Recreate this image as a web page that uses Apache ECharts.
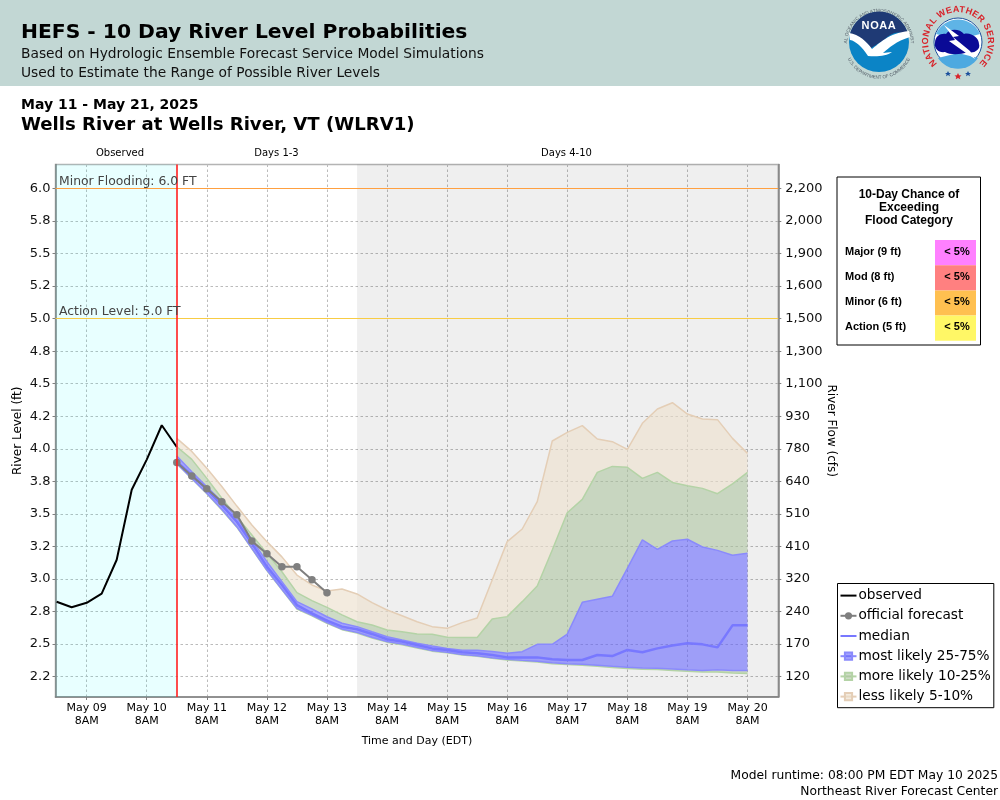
<!DOCTYPE html>
<html>
<head>
<meta charset="utf-8">
<title>HEFS - 10 Day River Level Probabilities</title>
<script src="https://cdn.jsdelivr.net/npm/echarts@6/dist/echarts.min.js"></script>
<style>
  html, body { margin: 0; background: #fff; }
  #main { position: absolute; left: 0; top: 0; width: 1000px; height: 800px; }
  #logos { position: absolute; left: 820px; top: 0; }
</style>
</head>
<body>
<div id="main"></div>
<svg id="logos" width="180" height="86" viewBox="820 0 180 86" font-family="Liberation Sans">
  <g transform="translate(-1,0)">
    <path id="noaaTop" d="M 848 44 A 32 32 0 0 1 912 44" fill="none"/>
    <path id="noaaBottom" d="M 846 50 A 34.5 34.5 0 0 0 914 50" fill="none"/>
    <text font-size="4.6" fill="#56606a" letter-spacing="0.1"><textPath href="#noaaTop" startOffset="50%" text-anchor="middle">NATIONAL OCEANIC AND ATMOSPHERIC ADMINISTRATION</textPath></text>
    <text font-size="4.6" fill="#56606a"><textPath href="#noaaBottom" startOffset="50%" text-anchor="middle">U.S. DEPARTMENT OF COMMERCE</textPath></text>
    <circle cx="880" cy="42" r="30" fill="#0b84c6"/>
    <path d="M 850.5 36 A 30 30 0 0 1 909.5 36 C 900 30 893 32 885 40 L 872 48 C 866 40 858 35 850.5 36 Z" fill="#1f3a75"/>
    <path d="M 850 33 C 860 34 868 42 873 49 C 880 44 889 33 910 31 L 911 37 C 897 41 890 48 884 53 L 893 52 C 888 56 878 57 869 56 C 863 47 857 41 851 40 Z" fill="#fff"/>
    <text x="880" y="29" font-size="11" font-weight="bold" fill="#fff" text-anchor="middle" letter-spacing="0.6">NOAA</text>
  </g>

  <path id="nwsTop" d="M 940.8 66.6 A 30 30 0 1 1 975.2 66.6" fill="none"/>
  <text font-size="9" font-weight="bold" fill="#d8232a" letter-spacing="0.3"><textPath href="#nwsTop" startOffset="50%" text-anchor="middle">NATIONAL WEATHER SERVICE</textPath></text>
  <circle cx="958" cy="42" r="24" fill="#fff" stroke="#1b4f9c" stroke-width="1"/>
  <path d="M 936 34 A 24 24 0 0 1 980 34 L 958 40 Z" fill="#5fb4e6"/>
  <path d="M 938 58 A 24 24 0 0 0 978 58 L 958 53 Z" fill="#4da9e0"/>
  <path d="M 935 43 C 935 36 941 33 946 34 C 950 28 960 29 964 34 C 971 32 979 38 979 44 C 981 50 973 54 968 52 C 960 55 950 55 945 52 C 939 53 934 49 935 43 Z" fill="#0a0a96"/>
  <path d="M 944 25 L 959 36 L 953 37 L 970 51 L 975 59 L 966 53 L 949 41 L 955 40 Z" fill="#fff"/>
  <path d="M 948 72 l 1 2 2 0 -1.6 1.3 .6 2 -2 -1.2 -2 1.2 .6 -2 -1.6 -1.3 2 0 Z" fill="#1b4f9c" transform="translate(0,-1)"/>
  <path d="M 958 73 l 1.1 2.2 2.4 .2 -1.8 1.5 .6 2.3 -2.3 -1.3 -2.3 1.3 .6 -2.3 -1.8 -1.5 2.4 -.2 Z" fill="#d8232a"/>
  <path d="M 968 72 l 1 2 2 0 -1.6 1.3 .6 2 -2 -1.2 -2 1.2 .6 -2 -1.6 -1.3 2 0 Z" fill="#1b4f9c" transform="translate(0,-1)"/>
</svg>
<script>
// axis ticks
var levelTicks = [2.25, 2.5, 2.75, 3.0, 3.25, 3.5, 3.75, 4.0, 4.25, 4.5, 4.75, 5.0, 5.25, 5.5, 5.75, 6.0];
var levelLabels = ['2.2', '2.5', '2.8', '3.0', '3.2', '3.5', '3.8', '4.0', '4.2', '4.5', '4.8', '5.0', '5.2', '5.5', '5.8', '6.0'];
var flowLabels = ['120', '170', '240', '320', '410', '510', '640', '780', '930', '1,100', '1,300', '1,500', '1,600', '1,900', '2,000', '2,200'];
// hours counted from May 09 8AM
var dayTicks = [0, 24, 48, 72, 96, 120, 144, 168, 192, 216, 240, 264];
var dayLabels = ['May 09', 'May 10', 'May 11', 'May 12', 'May 13', 'May 14', 'May 15', 'May 16', 'May 17', 'May 18', 'May 19', 'May 20'];

// observed river level
var observedHours = [-12, -6, 0, 6, 12, 18, 24, 30, 36];
var observed = [2.825, 2.783, 2.817, 2.888, 3.148, 3.686, 3.917, 4.181, 4.014];

// official forecast
var officialHours = [36, 42, 48, 54, 60, 66, 72, 78, 84, 90, 96];
var official = [3.894, 3.791, 3.694, 3.594, 3.494, 3.291, 3.194, 3.094, 3.094, 2.994, 2.894];

// ensemble percentiles, every 6 hours
var ensembleHours = [36, 42, 48, 54, 60, 66, 72, 78, 84, 90, 96, 102, 108, 114, 120, 126, 132, 138, 144, 150, 156, 162, 168, 174, 180, 186, 192, 198, 204, 210, 216, 222, 228, 234, 240, 246, 252, 258, 264];
var p95 = [4.08, 3.98, 3.85, 3.71, 3.56, 3.415, 3.287, 3.17, 3.03, 2.954, 2.908, 2.923, 2.885, 2.818, 2.762, 2.718, 2.672, 2.634, 2.621, 2.665, 2.70, 2.992, 3.287, 3.384, 3.594, 4.06, 4.126, 4.178, 4.075, 4.055, 3.996, 4.196, 4.306, 4.354, 4.267, 4.229, 4.224, 4.08, 3.965];
var p90 = [4.016, 3.919, 3.773, 3.62, 3.479, 3.338, 3.197, 3.056, 2.895, 2.834, 2.782, 2.724, 2.672, 2.647, 2.608, 2.595, 2.577, 2.575, 2.552, 2.55, 2.55, 2.693, 2.711, 2.826, 2.946, 3.223, 3.509, 3.612, 3.819, 3.865, 3.858, 3.773, 3.819, 3.742, 3.717, 3.696, 3.655, 3.73, 3.819];
var p75 = [3.945, 3.824, 3.709, 3.594, 3.474, 3.30, 3.133, 2.98, 2.826, 2.77, 2.71, 2.66, 2.634, 2.595, 2.557, 2.531, 2.506, 2.485, 2.467, 2.452, 2.452, 2.444, 2.429, 2.442, 2.498, 2.498, 2.577, 2.821, 2.844, 2.867, 3.082, 3.30, 3.228, 3.292, 3.305, 3.246, 3.22, 3.182, 3.197];
var median = [3.90, 3.799, 3.689, 3.568, 3.44, 3.274, 3.095, 2.954, 2.80, 2.736, 2.68, 2.634, 2.614, 2.578, 2.537, 2.519, 2.493, 2.467, 2.455, 2.437, 2.429, 2.416, 2.398, 2.398, 2.398, 2.383, 2.378, 2.378, 2.416, 2.408, 2.455, 2.437, 2.467, 2.49, 2.506, 2.498, 2.475, 2.644, 2.644];
var p25 = [3.888, 3.773, 3.658, 3.535, 3.402, 3.236, 3.069, 2.921, 2.775, 2.723, 2.665, 2.616, 2.59, 2.552, 2.52, 2.50, 2.475, 2.45, 2.437, 2.421, 2.411, 2.396, 2.383, 2.375, 2.368, 2.357, 2.35, 2.345, 2.337, 2.329, 2.322, 2.316, 2.314, 2.309, 2.303, 2.298, 2.303, 2.298, 2.298];
var p10 = [3.885, 3.77, 3.655, 3.53, 3.398, 3.232, 3.065, 2.917, 2.77, 2.718, 2.66, 2.611, 2.585, 2.547, 2.515, 2.495, 2.47, 2.446, 2.433, 2.417, 2.407, 2.392, 2.378, 2.37, 2.362, 2.35, 2.343, 2.337, 2.329, 2.32, 2.313, 2.307, 2.305, 2.297, 2.291, 2.285, 2.285, 2.278, 2.275];

// flood category table
var floodRows = ['Major (9 ft)', 'Mod (8 ft)', 'Minor (6 ft)', 'Action (5 ft)'];
var floodChance = ['< 5%', '< 5%', '< 5%', '< 5%'];
var floodColors = ['#ff80ff', '#ff8080', '#ffc050', '#fff766'];

var FONT = '"DejaVu Sans"';
var ARIAL = '"Liberation Sans"';
var BLUE = '#8a8afc', GREEN = '#b4d3a6', TAN = '#e4ceb6';
var FILL_BLUE = 'rgba(104,104,254,0.6)', FILL_GREEN = 'rgba(174,197,160,0.6)', FILL_TAN = 'rgba(237,224,206,0.65)';

// filled bands: upper edge, lower edge, colour
var bands = [
    [p25, p10, FILL_GREEN],
    [p75, p25, FILL_BLUE],
    [p90, p75, FILL_GREEN],
    [p95, p90, FILL_TAN]
];

function pairs(xs, ys) {
    return xs.map(function (x, i) { return [x, ys[i]]; });
}
function text(str, x, y, font, align, fill) {
    return {
        type: 'text', x: x, y: y, silent: true,
        style: { text: str, font: font, textAlign: align || 'left', textVerticalAlign: 'middle', fill: fill || '#000' }
    };
}
function edgeSeries(name, values, fill, line, symbol) {
    return {
        name: name, type: 'line', data: pairs(ensembleHours, values),
        symbol: symbol || 'none', showSymbol: false, silent: true,
        itemStyle: { color: fill, borderColor: line, borderWidth: 1 },
        lineStyle: { color: line, width: 1.5 }
    };
}
function renderBand(params, api) {
    var b = bands[params.dataIndex];
    var upper = ensembleHours.map(function (h, i) { return api.coord([h, b[0][i]]); });
    var lower = ensembleHours.map(function (h, i) { return api.coord([h, b[1][i]]); }).reverse();
    return { type: 'polygon', shape: { points: upper.concat(lower) }, style: { fill: b[2] }, silent: true };
}

var graphics = [
    { type: 'rect', shape: { x: 0, y: 0, width: 1000, height: 86 }, style: { fill: '#c2d7d4' }, silent: true },
    text('HEFS - 10 Day River Level Probabilities', 21, 33, 'bold 20.3px ' + FONT),
    text('Based on Hydrologic Ensemble Forecast Service Model Simulations', 21, 54, '13.8px ' + FONT, 'left', '#111'),
    text('Used to Estimate the Range of Possible River Levels', 21, 73, '13.8px ' + FONT, 'left', '#111'),
    text('May 11 - May 21, 2025', 21, 105, 'bold 14px ' + FONT),
    text('Wells River at Wells River, VT (WLRV1)', 21, 125.5, 'bold 18.1px ' + FONT),
    text('Observed', 120, 153.5, '10px ' + FONT, 'center'),
    text('Days 1-3', 276.5, 153.5, '10px ' + FONT, 'center'),
    text('Days 4-10', 566.5, 153.5, '10px ' + FONT, 'center'),
    text('Model runtime: 08:00 PM EDT May 10 2025', 998, 775.5, '12.3px ' + FONT, 'right'),
    text('Northeast River Forecast Center', 998, 791.5, '12.3px ' + FONT, 'right'),
    { type: 'rect', shape: { x: 837, y: 177, width: 143.5, height: 168 }, style: { fill: '#fff', stroke: '#000', lineWidth: 1 }, silent: true },
    text('10-Day Chance of', 909, 195, 'bold 12px ' + ARIAL, 'center'),
    text('Exceeding', 909, 208, 'bold 12px ' + ARIAL, 'center'),
    text('Flood Category', 909, 221, 'bold 12px ' + ARIAL, 'center')
];
floodRows.forEach(function (row, i) {
    graphics.push({ type: 'rect', shape: { x: 935, y: 240 + i * 25.2, width: 41, height: 25.2 }, style: { fill: floodColors[i] }, silent: true });
    graphics.push(text(row, 845, 251.5 + i * 25, 'bold 11px ' + ARIAL));
    graphics.push(text(floodChance[i], 957, 251.5 + i * 25, 'bold 11px ' + ARIAL, 'center'));
});

var myChart = echarts.init(document.getElementById('main'));
var option = {
    animation: false,
    textStyle: { fontFamily: FONT },
    grid: { left: 55.5, width: 722.8, top: 164.5, height: 532.5, show: true, outerBoundsMode: 'none', borderColor: '#b4b4b4', borderWidth: 1.5, backgroundColor: '#fff' },
    xAxis: {
        type: 'value', min: -12.45, max: 276.3,
        name: 'Time and Day (EDT)', nameLocation: 'middle', nameGap: 39, nameMoveOverlap: false,
        nameTextStyle: { fontSize: 11, color: '#000' },
        axisLine: { onZero: false, lineStyle: { color: '#808080', width: 1.5 } },
        axisTick: { customValues: dayTicks, length: 3, lineStyle: { color: '#808080' } },
        axisLabel: {
            customValues: dayTicks, fontSize: 11, color: '#000', lineHeight: 13, margin: 5, hideOverlap: false,
            formatter: function (v) { return dayLabels[dayTicks.indexOf(v)] + '\n8AM'; }
        },
        splitLine: { show: true, lineStyle: { color: '#bbb', type: [2.5, 2.5], width: 1 } }
    },
    yAxis: [{
        type: 'value', min: 2.0937, max: 6.1836,
        name: 'River Level (ft)', nameLocation: 'middle', nameGap: 32, nameMoveOverlap: false,
        nameTextStyle: { fontSize: 12, color: '#000' },
        axisLine: { onZero: false, lineStyle: { color: '#808080', width: 1.5 } },
        axisTick: { customValues: levelTicks, length: 3, lineStyle: { color: '#808080' } },
        axisLabel: {
            customValues: levelTicks, fontSize: 13, color: '#111', margin: 5,
            formatter: function (v) { return levelLabels[levelTicks.indexOf(v)]; }
        },
        splitLine: { lineStyle: { color: '#bbb', type: [2.5, 2.5], width: 1 } }
    }, {
        type: 'value', min: 2.0937, max: 6.1836, position: 'right',
        name: 'River Flow (cfs)', nameLocation: 'middle', nameGap: 47, nameRotate: -90, nameMoveOverlap: false,
        nameTextStyle: { fontSize: 12, color: '#000' },
        axisLine: { show: true, onZero: false, lineStyle: { color: '#808080', width: 1.5 } },
        axisTick: { customValues: levelTicks, length: 3, lineStyle: { color: '#808080' } },
        axisLabel: {
            customValues: levelTicks, fontSize: 13, color: '#111', margin: 7,
            formatter: function (v) { return flowLabels[levelTicks.indexOf(v)]; }
        },
        splitLine: { show: false }
    }],
    legend: {
        orient: 'vertical', left: 837.5, top: 583.5, padding: [4, 3, 3, 2],
        itemWidth: 16, itemHeight: 9, itemGap: 4,
        backgroundColor: '#fff', borderColor: '#000', borderWidth: 1,
        textStyle: { fontSize: 13.7, lineHeight: 16.2, color: '#000', padding: [0, 0, 0, -3] },
        data: [
            { name: 'observed', itemStyle: { color: 'transparent', borderWidth: 0 } },
            'official forecast',
            { name: 'median', itemStyle: { color: 'transparent', borderWidth: 0 } },
            'most likely 25-75%', 'more likely 10-25%', 'less likely 5-10%'
        ]
    },
    graphic: graphics,
    series: [
        {
            // shaded periods and the level/now lines
            name: 'background', type: 'line', data: [], silent: true,
            markArea: {
                silent: true,
                data: [
                    [{ xAxis: -12.45, itemStyle: { color: 'rgba(0,255,255,0.09)' } }, { xAxis: 36 }],
                    [{ xAxis: 108, itemStyle: { color: 'rgba(0,0,0,0.063)' } }, { xAxis: 276.3 }]
                ]
            },
            markLine: {
                silent: true, symbol: 'none', animation: false,
                label: { position: 'insideStartTop', fontSize: 12.4, color: '#444', distance: [3.5, 1], fontFamily: FONT },
                data: [
                    { yAxis: 6, lineStyle: { color: '#ffa040', width: 1, type: 'solid' }, label: { formatter: 'Minor Flooding: 6.0 FT' } },
                    { yAxis: 5, lineStyle: { color: '#f8cc44', width: 1, type: 'solid' }, label: { formatter: 'Action Level: 5.0 FT' } },
                    { xAxis: 36, lineStyle: { color: '#ff2020', width: 1.6, type: 'solid' }, label: { show: false } }
                ]
            }
        },
        {
            name: 'bands', type: 'custom', renderItem: renderBand, silent: true,
            data: bands.map(function (b) { return [ensembleHours[0], b[0][0]]; })
        },
        edgeSeries('p10 edge', p10, FILL_GREEN, GREEN),
        edgeSeries('p25 edge', p25, FILL_BLUE, BLUE),
        edgeSeries('most likely 25-75%', p75, FILL_BLUE, BLUE, 'rect'),
        edgeSeries('more likely 10-25%', p90, FILL_GREEN, GREEN, 'rect'),
        edgeSeries('less likely 5-10%', p95, FILL_TAN, TAN, 'rect'),
        {
            name: 'median', type: 'line', data: pairs(ensembleHours, median), symbol: 'none', silent: true,
            itemStyle: { color: '#7878ff' }, lineStyle: { color: '#7878ff', width: 2.5 }
        },
        {
            name: 'official forecast', type: 'line', data: pairs(officialHours, official), silent: true,
            symbol: 'circle', symbolSize: 7.5, showAllSymbol: true,
            itemStyle: { color: '#7f7f7f' }, lineStyle: { color: '#7f7f7f', width: 2 }
        },
        {
            name: 'observed', type: 'line', data: pairs(observedHours, observed), symbol: 'none', silent: true,
            itemStyle: { color: '#000' }, lineStyle: { color: '#000', width: 2 }
        }
    ]
};
myChart.setOption(option);
</script>
</body>
</html>
